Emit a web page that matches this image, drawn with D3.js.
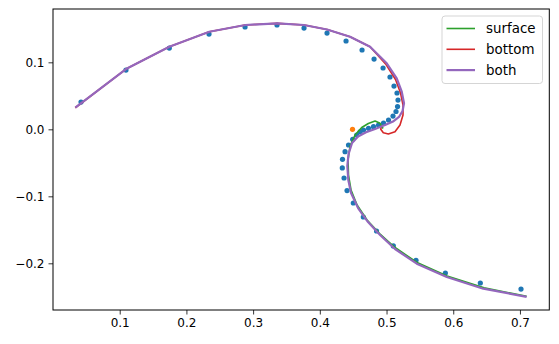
<!DOCTYPE html>
<html>
<head>
<meta charset="utf-8">
<script src="https://cdn.jsdelivr.net/npm/d3@7"></script>
<style>
  body { margin: 0; background: #fff; }
  svg { display: block; font-family: "DejaVu Sans", sans-serif; }
</style>
</head>
<body>
<svg width="559" height="344"></svg>
<script>
//data
const observed = [
  [0.042, 0.0407], [0.1094, 0.0885], [0.1744, 0.1213], [0.2339, 0.1422],
  [0.2879, 0.1527], [0.3358, 0.1557], [0.3763, 0.1512], [0.4108, 0.1437],
  [0.4393, 0.1318], [0.4633, 0.1184], [0.4813, 0.1049], [0.4948, 0.0915],
  [0.5052, 0.0781], [0.5112, 0.0646], [0.5157, 0.0542], [0.5172, 0.0437],
  [0.5165, 0.0340], [0.5142, 0.0266], [0.5097, 0.0198], [0.5030, 0.0139],
  [0.4955, 0.0094], [0.4880, 0.0064], [0.4805, 0.0039], [0.4730, 0.0015],
  [0.4655, -0.0010], [0.4603, -0.0036], [0.4553, -0.0085], [0.4493, -0.0149],
  [0.4430, -0.0234], [0.4378, -0.0334], [0.4340, -0.0448], [0.4337, -0.0577],
  [0.4363, -0.0727], [0.4408, -0.0915], [0.4502, -0.1100], [0.4652, -0.1309],
  [0.4850, -0.1518], [0.5102, -0.1740], [0.5442, -0.1955], [0.5882, -0.2145],
  [0.6406, -0.2294], [0.7016, -0.2384]
];
const origin = [[0.449, 0.0]];

const surface = [
  [0.4948, 0.0012], [0.4903, 0.0090], [0.4828, 0.0124], [0.4727, 0.0087],
  [0.4628, 0.0027], [0.4528, -0.0085], [0.4453, -0.0249], [0.4423, -0.0458],
  [0.4430, -0.0682], [0.4468, -0.0906], [0.4558, -0.1130], [0.4708, -0.1354],
  [0.4895, -0.1555], [0.5127, -0.1764], [0.5457, -0.1988], [0.5907, -0.2190],
  [0.6462, -0.2364], [0.7100, -0.2493]
];
const bottom = [
  [0.0334, 0.0322], [0.1094, 0.0900], [0.1744, 0.1233], [0.2343, 0.1457],
  [0.2883, 0.1557], [0.3363, 0.1582], [0.3763, 0.1557], [0.4108, 0.1490],
  [0.4453, 0.1382], [0.4753, 0.1233], [0.4993, 0.0967], [0.5135, 0.0743],
  [0.5210, 0.0542], [0.5247, 0.0363], [0.5247, 0.0213], [0.5202, 0.0064],
  [0.5127, -0.0036], [0.5027, -0.0070], [0.4952, -0.0051], [0.4913, 0.0000],
  [0.4925, 0.0049]
];
const both = [
  [0.0334, 0.0322], [0.1094, 0.0900], [0.1744, 0.1233], [0.2343, 0.1457],
  [0.2883, 0.1557], [0.3363, 0.1582], [0.3763, 0.1557], [0.4108, 0.1490],
  [0.4453, 0.1382], [0.4753, 0.1233], [0.5003, 0.0985], [0.5153, 0.0761],
  [0.5228, 0.0561], [0.5262, 0.0388], [0.5240, 0.0273], [0.5187, 0.0184],
  [0.5097, 0.0116], [0.4978, 0.0064], [0.4828, 0.0004], [0.4693, -0.0045],
  [0.4573, -0.0107], [0.4483, -0.0204], [0.4430, -0.0369], [0.4412, -0.0548],
  [0.4427, -0.0757], [0.4468, -0.0951], [0.4573, -0.1175], [0.4723, -0.1384],
  [0.4903, -0.1578], [0.5127, -0.1787], [0.5453, -0.2006], [0.5903, -0.2204],
  [0.6451, -0.2379], [0.7100, -0.2500]
];

const xTicks = [0.1, 0.2, 0.3, 0.4, 0.5, 0.6, 0.7];
const yTicks = [-0.2, -0.1, 0.0, 0.1];

const series = [
  { name: 'surface', color: '#2ca02c', width: 1.6, values: surface },
  { name: 'bottom', color: '#d62728', width: 1.6, values: bottom },
  { name: 'both', color: '#9467bd', width: 2.2, values: both }
];

//set up
const svg = d3.select('svg');
const plotL = 53, plotR = 549.3, plotT = 9, plotB = 310;

const x = d3.scaleLinear().domain([0, 0.744]).range([plotL, plotR]);
const y = d3.scaleLinear().domain([-0.2697, 0.1796]).range([plotB, plotT]);

const fmt = d => d3.format('.1f')(d).replace('-', '\u2212');

//axes
const xAxis = svg.append('g')
  .attr('transform', `translate(0,${plotB})`)
  .call(d3.axisBottom(x).tickValues(xTicks).tickFormat(fmt).tickSizeOuter(0).tickSize(4.5).tickPadding(4));
const yAxis = svg.append('g')
  .attr('transform', `translate(${plotL},0)`)
  .call(d3.axisLeft(y).tickValues(yTicks).tickFormat(fmt).tickSizeOuter(0).tickSize(4.5).tickPadding(4));

[xAxis, yAxis].forEach(g => {
  g.select('.domain').remove();
  g.selectAll('line').attr('stroke', '#000').attr('stroke-width', 0.8);
  g.selectAll('text').attr('fill', '#000').style('font-size', '12px').style('font-family', '"DejaVu Sans", sans-serif');
});

//dots (under the lines)
svg.append('g')
  .selectAll('circle')
  .data(observed)
  .join('circle')
  .attr('cx', d => x(d[0]))
  .attr('cy', d => y(d[1]))
  .attr('r', 2.6)
  .attr('fill', '#1f77b4');

//lines
const line = d3.line().x(d => x(d[0])).y(d => y(d[1]));

svg.append('g')
  .selectAll('path')
  .data(series)
  .join('path')
  .attr('d', d => line(d.values))
  .attr('fill', 'none')
  .attr('stroke', d => d.color)
  .attr('stroke-width', d => d.width)
  .attr('stroke-linejoin', 'round')
  .attr('stroke-linecap', 'butt');

svg.append('g')
  .selectAll('circle')
  .data(origin)
  .join('circle')
  .attr('cx', d => x(d[0]))
  .attr('cy', d => y(d[1]))
  .attr('r', 2.6)
  .attr('fill', '#ff7f0e');

//frame
svg.append('rect')
  .attr('x', plotL)
  .attr('y', plotT)
  .attr('width', plotR - plotL)
  .attr('height', plotB - plotT)
  .attr('fill', 'none')
  .attr('stroke', '#000')
  .attr('stroke-width', 1);

//legend
const legend = svg.append('g').attr('transform', 'translate(442,16)');
legend.append('rect')
  .attr('width', 100.5)
  .attr('height', 67.5)
  .attr('rx', 3)
  .attr('fill', '#fff')
  .attr('fill-opacity', 0.8)
  .attr('stroke', '#d5d5d5')
  .attr('stroke-width', 1);

const item = legend.selectAll('g.item')
  .data(series)
  .join('g')
  .attr('class', 'item')
  .attr('transform', (d, i) => `translate(0,${12.5 + i * 20.8})`);

item.append('line')
  .attr('x1', 4.5)
  .attr('x2', 33)
  .attr('stroke', d => d.color)
  .attr('stroke-width', d => d.width);

item.append('text')
  .text(d => d.name)
  .attr('x', 44)
  .attr('dy', '0.35em')
  .style('font-size', '13.4px')
  .attr('fill', '#000');
</script>
</body>
</html>
